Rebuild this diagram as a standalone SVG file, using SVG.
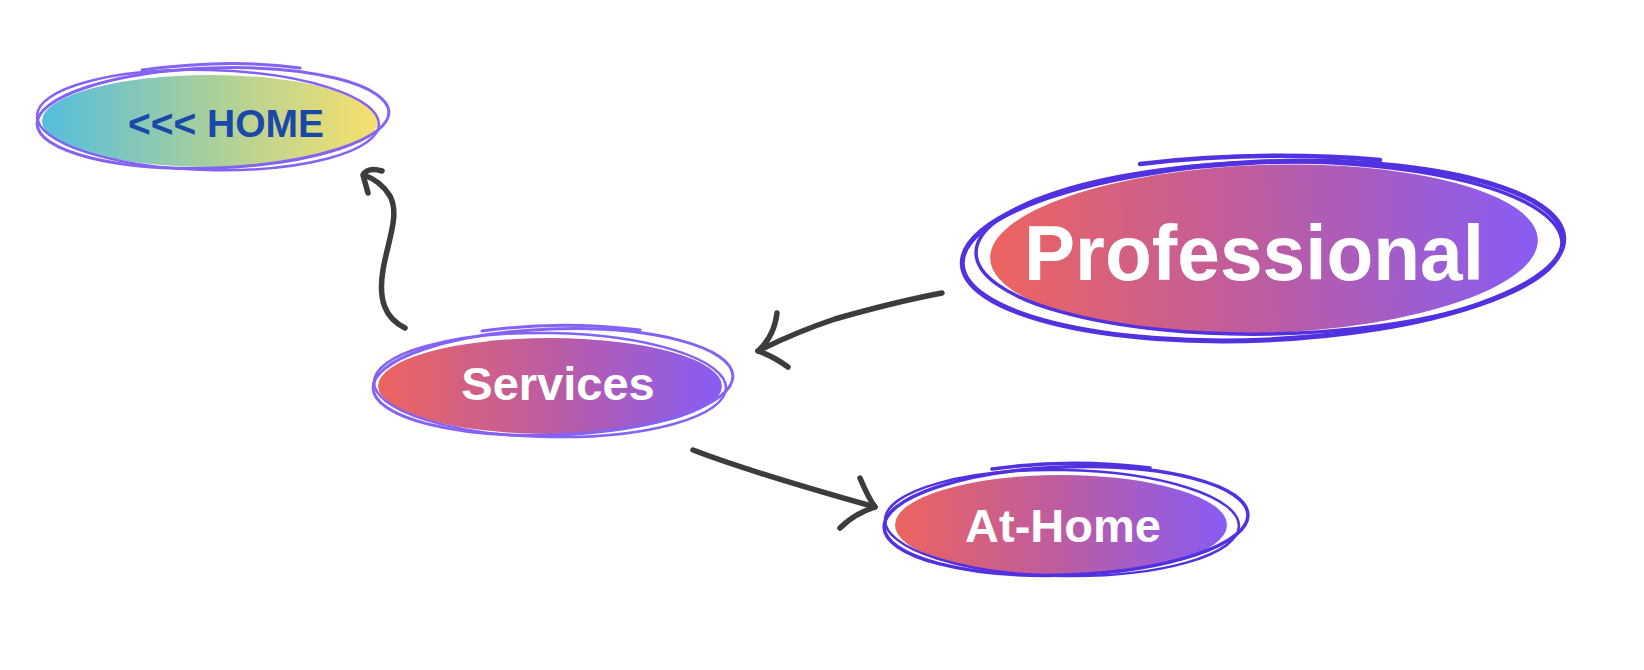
<svg xmlns="http://www.w3.org/2000/svg" width="1644" height="670" viewBox="0 0 1644 670">
<style>
.lbl{font-family:"Liberation Sans",Arial,sans-serif;font-weight:bold;text-anchor:middle}
.w{fill:#ffffff}
.sl{fill:none;stroke:#8462f3;stroke-linecap:round}
.sd{fill:none;stroke:#5231e0;stroke-linecap:round}
.conn{fill:none;stroke:#3c3c3c;stroke-width:5.5;stroke-linecap:round;stroke-linejoin:round}
</style>
<defs>
<linearGradient id="gHome" x1="0" y1="0" x2="1" y2="0">
<stop offset="0" stop-color="#53bedd"/>
<stop offset="0.5" stop-color="#a9cf9c"/>
<stop offset="1" stop-color="#f7e06c"/>
</linearGradient>
<linearGradient id="gMain" x1="0" y1="0" x2="1" y2="0">
<stop offset="0" stop-color="#ec645f"/>
<stop offset="0.5" stop-color="#bc5ca2"/>
<stop offset="1" stop-color="#875cf4"/>
</linearGradient>
</defs>

<g id="node-home">
<ellipse cx="210" cy="121" rx="168" ry="46" fill="url(#gHome)"/>
<ellipse class="sl" cx="213" cy="118" rx="176" ry="50" stroke-width="3" transform="rotate(-2 213 118)"/>
<ellipse class="sl" cx="208" cy="120" rx="171" ry="50" stroke-width="2.5" transform="rotate(1.5 208 120)"/>
<path class="sl" stroke-width="3" d="M142 70 Q230 58 300 68"/>
<text class="lbl" x="226" y="137" font-size="39" fill="#1a48a8">&lt;&lt;&lt; HOME</text>
</g>

<g id="node-professional">
<ellipse cx="1264" cy="249" rx="274" ry="84" fill="url(#gMain)" transform="rotate(-2 1264 249)"/>
<ellipse class="sd" cx="1263" cy="251" rx="301" ry="89" stroke-width="5" transform="rotate(-2.5 1263 251)"/>
<ellipse class="sd" cx="1269" cy="248" rx="293" ry="86" stroke-width="3.5" transform="rotate(-1 1269 248)"/>
<path class="sd" stroke-width="4.5" d="M1140 164 Q1260 150 1380 160"/>
<text class="lbl w" x="1254" y="280" font-size="77" textLength="460" lengthAdjust="spacingAndGlyphs">Professional</text>
</g>

<g id="node-services">
<ellipse cx="550" cy="386" rx="172" ry="48" fill="url(#gMain)"/>
<ellipse class="sl" cx="553" cy="382" rx="180" ry="53" stroke-width="3" transform="rotate(-2 553 382)"/>
<ellipse class="sl" cx="550" cy="385" rx="176" ry="52" stroke-width="2.5" transform="rotate(1 550 385)"/>
<path class="sl" stroke-width="3" d="M482 331 Q560 320 640 330"/>
<text class="lbl w" x="558" y="400" font-size="47">Services</text>
</g>

<g id="node-athome">
<ellipse cx="1061" cy="525" rx="166" ry="50" fill="url(#gMain)"/>
<ellipse class="sd" cx="1066" cy="521" rx="182" ry="54" stroke-width="3.5" transform="rotate(-2 1066 521)"/>
<ellipse class="sd" cx="1062" cy="523" rx="177" ry="53" stroke-width="2.5" transform="rotate(1 1062 523)"/>
<path class="sd" stroke-width="3.5" d="M992 469 Q1070 458 1150 468"/>
<text class="lbl w" x="1063" y="542" font-size="47">At-Home</text>
</g>

<g id="connectors">
<path class="conn" d="M405 328 C385 318 378 300 383 270 C388 240 400 215 390 196 C384 186 375 179 364 175"/>
<path class="conn" d="M382 171 C372 168 366 170 363 175 L368 193"/>
<path class="conn" d="M942 293 C905 300 870 309 835 319 C805 329 780 340 758 351"/>
<path class="conn" d="M777 313 C775 330 768 342 758 351 C770 355 780 361 788 367"/>
<path class="conn" d="M693 450 C740 468 800 486 875 507"/>
<path class="conn" d="M860 478 C865 490 870 500 875 507 C860 512 848 520 840 528"/>
</g>
</svg>
